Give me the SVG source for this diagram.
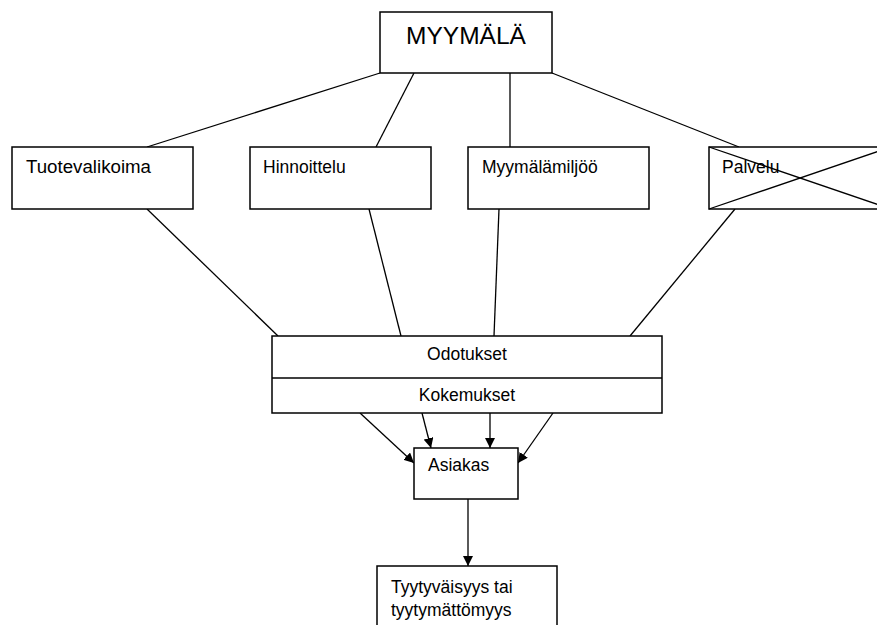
<svg xmlns="http://www.w3.org/2000/svg" width="877" height="625" viewBox="0 0 877 625">
<defs>
<style>
.box{fill:#fff;stroke:#000;stroke-width:1.5}
.ln{stroke:#000;stroke-width:1.3;fill:none}
.t{font-family:"Liberation Sans",Arial,sans-serif;font-size:17.5px;fill:#000}
.c{text-anchor:middle}
</style>
<marker id="ah" viewBox="0 0 10 10" refX="10" refY="5" markerWidth="10" markerHeight="10" markerUnits="userSpaceOnUse" orient="auto">
<path d="M0,0 L10,5 L0,10 z" fill="#000"/>
</marker>
</defs>
<rect width="877" height="625" fill="#fff"/>
<g id="connectors">
<line class="ln" x1="380" y1="73" x2="147" y2="147"/>
<line class="ln" x1="414" y1="73" x2="376" y2="147"/>
<line class="ln" x1="510" y1="73" x2="510" y2="147"/>
<line class="ln" x1="552" y1="73" x2="739" y2="147"/>
<line class="ln" x1="147" y1="209" x2="278" y2="336"/>
<line class="ln" x1="369" y1="209" x2="401" y2="336"/>
<line class="ln" x1="499" y1="209" x2="494" y2="336"/>
<line class="ln" x1="735" y1="209" x2="630" y2="336"/>
<line class="ln" x1="360" y1="413" x2="414" y2="463" marker-end="url(#ah)"/>
<line class="ln" x1="422" y1="413" x2="431" y2="448" marker-end="url(#ah)"/>
<line class="ln" x1="490" y1="413" x2="490" y2="448" marker-end="url(#ah)"/>
<line class="ln" x1="553" y1="413" x2="518" y2="463" marker-end="url(#ah)"/>
<line class="ln" x1="468" y1="499" x2="468" y2="566" marker-end="url(#ah)"/>
</g>
<g id="myymala">
<rect class="box" x="380" y="12" width="172" height="61"/>
<text class="t c" x="466" y="44" style="font-size:24.5px">MYYMÄLÄ</text>
</g>
<g id="tuotevalikoima">
<rect class="box" x="12" y="147" width="181" height="62"/>
<text class="t" x="26" y="173" textLength="125" lengthAdjust="spacingAndGlyphs">Tuotevalikoima</text>
</g>
<g id="hinnoittelu">
<rect class="box" x="250" y="147" width="181" height="62"/>
<text class="t" x="263" y="173">Hinnoittelu</text>
</g>
<g id="myymalamiljoo">
<rect class="box" x="468" y="147" width="181" height="62"/>
<text class="t" x="482" y="173">Myymälämiljöö</text>
</g>
<g id="palvelu">
<rect class="box" x="709" y="147" width="182" height="62"/>
<text class="t" x="722" y="173">Palvelu</text>
<line class="ln" x1="709" y1="147" x2="891" y2="209"/>
<line class="ln" x1="709" y1="209" x2="891" y2="147"/>
</g>
<g id="odotukset-kokemukset">
<rect class="box" x="272" y="336" width="390" height="77"/>
<line class="ln" x1="272" y1="378" x2="662" y2="378" style="stroke-width:1.5"/>
<text class="t c" x="467" y="360">Odotukset</text>
<text class="t c" x="467" y="401">Kokemukset</text>
</g>
<g id="asiakas">
<rect class="box" x="414" y="448" width="104" height="51"/>
<text class="t" x="428" y="471">Asiakas</text>
</g>
<g id="tyytyvaisyys">
<rect class="box" x="377" y="566" width="180" height="70"/>
<text class="t" x="391" y="593">Tyytyväisyys tai</text>
<text class="t" x="391" y="616">tyytymättömyys</text>
</g>
</svg>
